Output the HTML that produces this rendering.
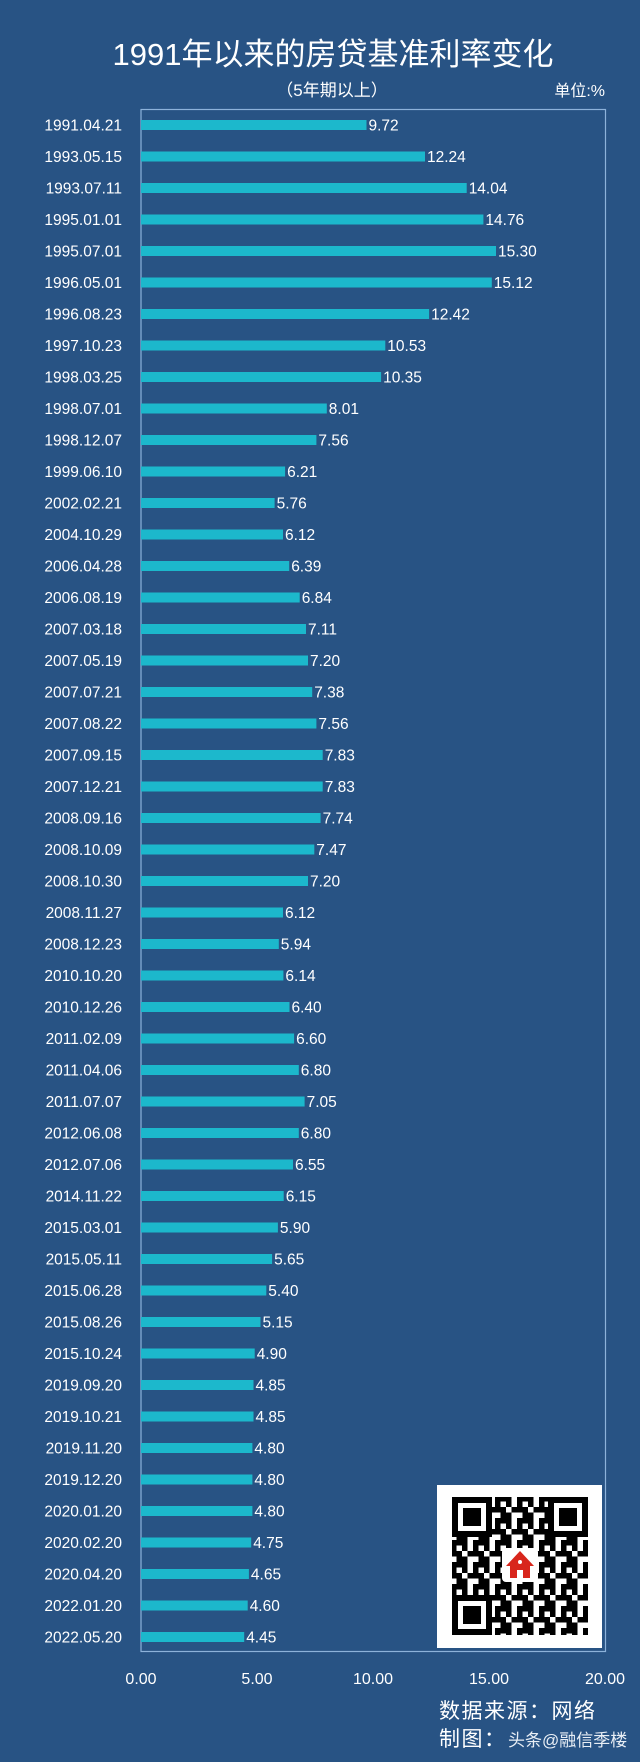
<!DOCTYPE html>
<html><head><meta charset="utf-8"><style>
html,body{margin:0;padding:0;background:#285384;}
svg{display:block;font-family:"Liberation Sans","Noto Sans CJK SC",sans-serif;}
</style></head><body>
<svg width="640" height="1762" viewBox="0 0 640 1762" xmlns="http://www.w3.org/2000/svg">
<defs>
<pattern id="qr" width="22" height="22" patternUnits="userSpaceOnUse">
<rect width="22" height="22" fill="#fff"/>
<rect x="0" y="0" width="5.5" height="11" fill="#000"/>
<rect x="11" y="0" width="11" height="5.5" fill="#000"/>
<rect x="5.5" y="11" width="11" height="5.5" fill="#000"/>
<rect x="16.5" y="11" width="5.5" height="11" fill="#000"/>
<rect x="0" y="16.5" width="5.5" height="5.5" fill="#000"/>
<rect x="11" y="5.5" width="5.5" height="5.5" fill="#000"/>
</pattern>
</defs>
<rect width="640" height="1762" fill="#285384"/>
<text x="333" y="65" fill="#fff" font-size="31" text-anchor="middle">1991年以来的房贷基准利率变化</text>
<text x="332" y="96" fill="#fff" font-size="17" text-anchor="middle">（5年期以上）</text>
<text x="605" y="96" fill="#fff" font-size="16" text-anchor="end">单位:%</text>
<rect x="141" y="109.5" width="464.5" height="1542" fill="none" stroke="#8db2da" stroke-width="1.2"/>
<g fill="#1cb8cc">
<rect x="141" y="120" width="225.5" height="10"/><rect x="141" y="151.5" width="284" height="10"/><rect x="141" y="183" width="325.7" height="10"/><rect x="141" y="214.5" width="342.4" height="10"/><rect x="141" y="246" width="355" height="10"/><rect x="141" y="277.5" width="350.8" height="10"/><rect x="141" y="309" width="288.1" height="10"/><rect x="141" y="340.5" width="244.3" height="10"/><rect x="141" y="372" width="240.1" height="10"/><rect x="141" y="403.5" width="185.8" height="10"/><rect x="141" y="435" width="175.4" height="10"/><rect x="141" y="466.5" width="144.1" height="10"/><rect x="141" y="498" width="133.6" height="10"/><rect x="141" y="529.5" width="142" height="10"/><rect x="141" y="561" width="148.2" height="10"/><rect x="141" y="592.5" width="158.7" height="10"/><rect x="141" y="624" width="165" height="10"/><rect x="141" y="655.5" width="167" height="10"/><rect x="141" y="687" width="171.2" height="10"/><rect x="141" y="718.5" width="175.4" height="10"/><rect x="141" y="750" width="181.7" height="10"/><rect x="141" y="781.5" width="181.7" height="10"/><rect x="141" y="813" width="179.6" height="10"/><rect x="141" y="844.5" width="173.3" height="10"/><rect x="141" y="876" width="167" height="10"/><rect x="141" y="907.5" width="142" height="10"/><rect x="141" y="939" width="137.8" height="10"/><rect x="141" y="970.5" width="142.4" height="10"/><rect x="141" y="1002" width="148.5" height="10"/><rect x="141" y="1033.5" width="153.1" height="10"/><rect x="141" y="1065" width="157.8" height="10"/><rect x="141" y="1096.5" width="163.6" height="10"/><rect x="141" y="1128" width="157.8" height="10"/><rect x="141" y="1159.5" width="152" height="10"/><rect x="141" y="1191" width="142.7" height="10"/><rect x="141" y="1222.5" width="136.9" height="10"/><rect x="141" y="1254" width="131.1" height="10"/><rect x="141" y="1285.5" width="125.3" height="10"/><rect x="141" y="1317" width="119.5" height="10"/><rect x="141" y="1348.5" width="113.7" height="10"/><rect x="141" y="1380" width="112.5" height="10"/><rect x="141" y="1411.5" width="112.5" height="10"/><rect x="141" y="1443" width="111.4" height="10"/><rect x="141" y="1474.5" width="111.4" height="10"/><rect x="141" y="1506" width="111.4" height="10"/><rect x="141" y="1537.5" width="110.2" height="10"/><rect x="141" y="1569" width="107.9" height="10"/><rect x="141" y="1600.5" width="106.7" height="10"/><rect x="141" y="1632" width="103.2" height="10"/>
</g>
<g font-size="15.5" fill="#fff" text-anchor="end">
<text x="122" y="130.5">1991.04.21</text><text x="122" y="162">1993.05.15</text><text x="122" y="193.5">1993.07.11</text><text x="122" y="225">1995.01.01</text><text x="122" y="256.5">1995.07.01</text><text x="122" y="288">1996.05.01</text><text x="122" y="319.5">1996.08.23</text><text x="122" y="351">1997.10.23</text><text x="122" y="382.5">1998.03.25</text><text x="122" y="414">1998.07.01</text><text x="122" y="445.5">1998.12.07</text><text x="122" y="477">1999.06.10</text><text x="122" y="508.5">2002.02.21</text><text x="122" y="540">2004.10.29</text><text x="122" y="571.5">2006.04.28</text><text x="122" y="603">2006.08.19</text><text x="122" y="634.5">2007.03.18</text><text x="122" y="666">2007.05.19</text><text x="122" y="697.5">2007.07.21</text><text x="122" y="729">2007.08.22</text><text x="122" y="760.5">2007.09.15</text><text x="122" y="792">2007.12.21</text><text x="122" y="823.5">2008.09.16</text><text x="122" y="855">2008.10.09</text><text x="122" y="886.5">2008.10.30</text><text x="122" y="918">2008.11.27</text><text x="122" y="949.5">2008.12.23</text><text x="122" y="981">2010.10.20</text><text x="122" y="1012.5">2010.12.26</text><text x="122" y="1044">2011.02.09</text><text x="122" y="1075.5">2011.04.06</text><text x="122" y="1107">2011.07.07</text><text x="122" y="1138.5">2012.06.08</text><text x="122" y="1170">2012.07.06</text><text x="122" y="1201.5">2014.11.22</text><text x="122" y="1233">2015.03.01</text><text x="122" y="1264.5">2015.05.11</text><text x="122" y="1296">2015.06.28</text><text x="122" y="1327.5">2015.08.26</text><text x="122" y="1359">2015.10.24</text><text x="122" y="1390.5">2019.09.20</text><text x="122" y="1422">2019.10.21</text><text x="122" y="1453.5">2019.11.20</text><text x="122" y="1485">2019.12.20</text><text x="122" y="1516.5">2020.01.20</text><text x="122" y="1548">2020.02.20</text><text x="122" y="1579.5">2020.04.20</text><text x="122" y="1611">2022.01.20</text><text x="122" y="1642.5">2022.05.20</text>
</g>
<g font-size="15.5" fill="#fff">
<text x="368.5" y="130.5">9.72</text><text x="427" y="162">12.24</text><text x="468.7" y="193.5">14.04</text><text x="485.4" y="225">14.76</text><text x="498" y="256.5">15.30</text><text x="493.8" y="288">15.12</text><text x="431.1" y="319.5">12.42</text><text x="387.3" y="351">10.53</text><text x="383.1" y="382.5">10.35</text><text x="328.8" y="414">8.01</text><text x="318.4" y="445.5">7.56</text><text x="287.1" y="477">6.21</text><text x="276.6" y="508.5">5.76</text><text x="285" y="540">6.12</text><text x="291.2" y="571.5">6.39</text><text x="301.7" y="603">6.84</text><text x="308" y="634.5">7.11</text><text x="310" y="666">7.20</text><text x="314.2" y="697.5">7.38</text><text x="318.4" y="729">7.56</text><text x="324.7" y="760.5">7.83</text><text x="324.7" y="792">7.83</text><text x="322.6" y="823.5">7.74</text><text x="316.3" y="855">7.47</text><text x="310" y="886.5">7.20</text><text x="285" y="918">6.12</text><text x="280.8" y="949.5">5.94</text><text x="285.4" y="981">6.14</text><text x="291.5" y="1012.5">6.40</text><text x="296.1" y="1044">6.60</text><text x="300.8" y="1075.5">6.80</text><text x="306.6" y="1107">7.05</text><text x="300.8" y="1138.5">6.80</text><text x="295" y="1170">6.55</text><text x="285.7" y="1201.5">6.15</text><text x="279.9" y="1233">5.90</text><text x="274.1" y="1264.5">5.65</text><text x="268.3" y="1296">5.40</text><text x="262.5" y="1327.5">5.15</text><text x="256.7" y="1359">4.90</text><text x="255.5" y="1390.5">4.85</text><text x="255.5" y="1422">4.85</text><text x="254.4" y="1453.5">4.80</text><text x="254.4" y="1485">4.80</text><text x="254.4" y="1516.5">4.80</text><text x="253.2" y="1548">4.75</text><text x="250.9" y="1579.5">4.65</text><text x="249.7" y="1611">4.60</text><text x="246.2" y="1642.5">4.45</text>
</g>
<rect x="437" y="1485" width="165" height="163" fill="#fff"/>
<rect x="452" y="1497" width="136" height="138" fill="url(#qr)"/>
<g fill="#000">
<rect x="452" y="1497" width="40" height="40"/><rect x="548" y="1497" width="40" height="40"/><rect x="452" y="1595" width="40" height="40"/>
</g>
<g fill="#fff">
<rect x="458" y="1503" width="28" height="28"/><rect x="554" y="1503" width="28" height="28"/><rect x="458" y="1601" width="28" height="28"/>
</g>
<g fill="#000">
<rect x="463" y="1508" width="18" height="18"/><rect x="559" y="1508" width="18" height="18"/><rect x="463" y="1606" width="18" height="18"/>
</g>
<rect x="502" y="1548" width="36" height="34" rx="4" fill="#fff"/>
<polygon points="520,1551 506,1566 510,1566 510,1578 530,1578 530,1566 534,1566" fill="#d8261c"/>
<rect x="517" y="1570" width="6" height="8" fill="#fff"/>
<circle cx="520" cy="1562" r="2" fill="#fff"/>
<g fill="#fff" font-size="16" text-anchor="middle">
<text x="141" y="1684">0.00</text><text x="257" y="1684">5.00</text><text x="373" y="1684">10.00</text><text x="489" y="1684">15.00</text><text x="605" y="1684">20.00</text>
</g>
<text x="439" y="1718" fill="#fff" font-size="21" letter-spacing="1.5">数据来源：网络</text>
<text x="439" y="1746" fill="#fff" font-size="21" letter-spacing="1.5">制图：</text>
<text x="508" y="1746" fill="#e8eef5" font-size="17">头条@融信季楼</text>
</svg>
</body></html>
